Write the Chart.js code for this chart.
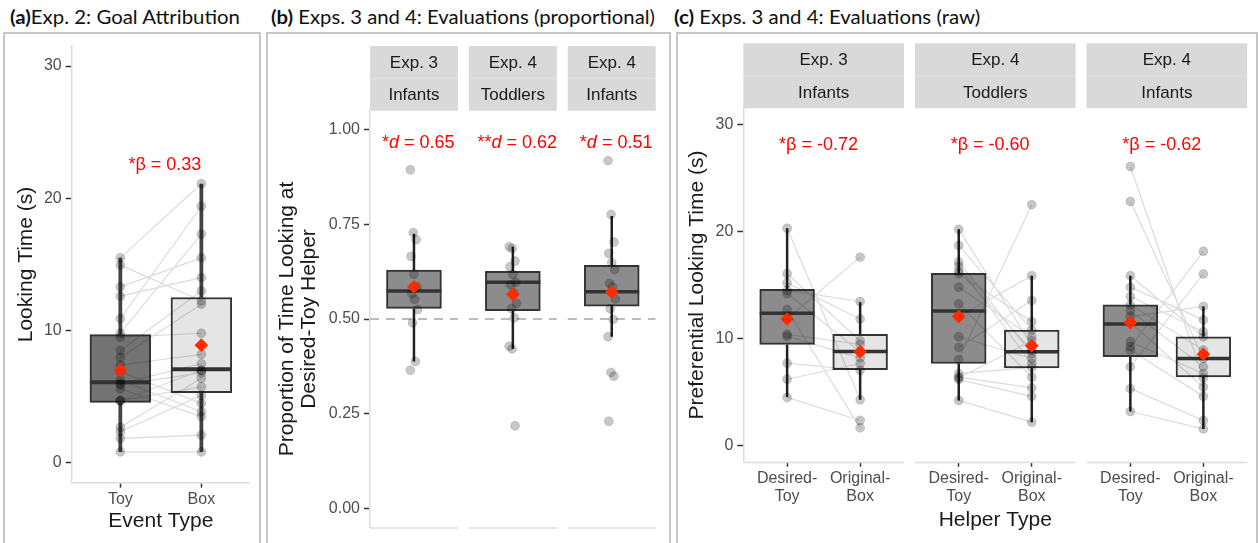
<!DOCTYPE html>
<html>
<head>
<meta charset="utf-8">
<title>Goal attribution and evaluations</title>
<script src="https://cdn.jsdelivr.net/npm/chart.js@4.4.1/dist/chart.umd.min.js"></script>
<style>
  html, body { margin: 0; padding: 0; background: #fff; }
  #page { position: relative; width: 1258px; height: 543px; overflow: hidden; }
  #page canvas { position: absolute; left: 0; top: 0; }
  .panel { position: absolute; top: 32px; height: 540px; border: 2px solid #c6c6c6; box-sizing: border-box; }
  .ptitle { position: absolute; top: 5px; font-family: Lato, "Open Sans", sans-serif; font-size: 19.5px; line-height: 24px; color: #111; white-space: nowrap; transform-origin: 0 50%; }
  .ptitle b { font-weight: 700; }
</style>
</head>
<body>
<div id="page">
  <div class="panel" style="left:3px; width:258px"></div>
  <div class="panel" style="left:266px; width:405px"></div>
  <div class="panel" style="left:676px; width:582px"></div>
  <div class="ptitle" data-w="230" style="left:10px"><b>(a)</b>Exp. 2: Goal Attribution</div>
  <div class="ptitle" data-w="384" style="left:271px"><b>(b)</b> Exps. 3 and 4: Evaluations (proportional)</div>
  <div class="ptitle" data-w="306" style="left:674px"><b>(c)</b> Exps. 3 and 4: Evaluations (raw)</div>
  <canvas id="chartA" width="1258" height="543"></canvas>
  <canvas id="chartB" width="1258" height="543"></canvas>
  <canvas id="chartC" width="1258" height="543"></canvas>
</div>
<script>
// --- data ---

// (a) Exp. 2: looking time per infant, paired Toy / Box
const EVENT_TYPES = ['Toy', 'Box'];
const TOY_LOOK = [15.5, 14.95, 13.3, 12.6, 10.9, 9.8, 9.5, 8.5, 7.97, 7.4, 6.9, 6.25, 6.0, 5.6, 5.9, 4.7, 4.7, 4.7, 2.7, 2.35, 1.85, 0.83];
const BOX_LOOK = [21.1, 12.25, 15.5, 14.0, 19.4, 17.3, 9.8, 13.0, 12.0, 8.2, 4.5, 3.86, 7.5, 3.5, 6.8, 7.0, 7.0, 5.75, 6.4, 5.1, 2.1, 0.83];
const A_LOW  = [0.83, 0.83];
const A_Q1   = [4.57, 5.3];
const A_MED  = [6.1, 7.07];
const A_Q3   = [9.7, 12.5];
const A_HIGH = [15.5, 21.1];
const A_MEAN = [7.0, 8.9];
const A_TICKS = [0, 10, 20, 30];
const A_NOTE = '*β = 0.33';

// facet strips shared by (b) and (c)
const STRIPS = [['Exp. 3', 'Infants'], ['Exp. 4', 'Toddlers'], ['Exp. 4', 'Infants']];

// (b) proportion of time looking at the desired-toy helper
const PROP_E3_INF = [0.894, 0.728, 0.709, 0.665, 0.618, 0.585, 0.567, 0.552, 0.525, 0.49, 0.388, 0.365];
const PROP_E4_TOD = [0.691, 0.686, 0.653, 0.638, 0.618, 0.597, 0.59, 0.569, 0.541, 0.527, 0.503, 0.428, 0.421, 0.218];
const PROP_E4_INF = [0.918, 0.776, 0.703, 0.673, 0.649, 0.631, 0.594, 0.585, 0.553, 0.527, 0.499, 0.453, 0.359, 0.349, 0.23];
const B_LOW  = [0.388, 0.421, 0.453];
const B_Q1   = [0.528, 0.522, 0.534];
const B_MED  = [0.574, 0.597, 0.572];
const B_Q3   = [0.629, 0.626, 0.642];
const B_HIGH = [0.725, 0.691, 0.772];
const B_MEAN = [0.585, 0.565, 0.571];
const B_TICKS = [0, 0.25, 0.5, 0.75, 1];
const B_CHANCE = 0.5;
const B_NOTES = ['*d = 0.65', '**d = 0.62', '*d = 0.51'];

// (c) preferential looking time, paired Desired-Toy / Original-Box
const HELPER_TYPES = [['Desired-', 'Toy'], ['Original-', 'Box']];
const DT_E3_INF = [20.3, 16.05, 15.2, 14.5, 14.2, 12.7, 11.85, 10.4, 10.2, 7.7, 6.2, 4.5];
const OB_E3_INF = [4.29, 9.8, 11.83, 13.46, 8.76, 1.66, 17.6, 9.45, 8.2, 7.04, 7.67, 2.35];
const DT_E4_TOD = [20.2, 18.7, 17.15, 16.77, 16.3, 16.06, 14.8, 13.24, 12.05, 10.17, 9.17, 8.05, 6.73, 6.4, 6.32, 6.17, 4.22];
const OB_E4_TOD = [9.39, 10.8, 8.6, 7.67, 8.9, 11.58, 10.17, 6.41, 15.87, 8.14, 13.55, 22.5, 7.3, 5.4, 9.8, 4.6, 2.19];
const DT_E4_INF = [26.07, 22.8, 15.87, 14.8, 13.93, 13.15, 12.6, 12.05, 11.5, 9.7, 9.23, 8.92, 7.36, 5.32, 3.19];
const OB_E4_INF = [6.32, 8.14, 10.17, 11.74, 10.64, 8.92, 7.36, 13.0, 5.48, 6.73, 18.15, 4.6, 16.03, 2.35, 1.56];
// per facet: [Desired-Toy, Original-Box]
const C_LOW  = [[4.54, 4.29], [4.22, 2.19], [3.19, 1.56]];
const C_Q1   = [[9.45, 7.1], [7.67, 7.26], [8.3, 6.41]];
const C_MED  = [[12.37, 8.8], [12.58, 8.76], [11.36, 8.14]];
const C_Q3   = [[14.6, 10.39], [16.1, 10.8], [13.15, 10.17]];
const C_HIGH = [[20.3, 13.4], [20.2, 15.87], [15.87, 13.0]];
const C_MEAN = [[11.83, 8.76], [12.05, 9.33], [11.49, 8.54]];
const C_TICKS = [0, 10, 20, 30];
const C_NOTES = ['*β = -0.72', '*β = -0.60', '*β = -0.62'];

// --- look & layout ---
const FONT = '"Liberation Sans", Arial, Helvetica, sans-serif';
Chart.defaults.font.family = FONT;
Chart.defaults.color = '#4d4d4d';
Chart.defaults.animation = false;
Chart.defaults.plugins.legend.display = false;
Chart.defaults.plugins.tooltip.enabled = false;

const AXIS_LINE = '#dcdcdc';
const TICK_MARK = '#333';
const DARK_BOX = '#8c8c8c';
const LIGHT_BOX = '#e5e5e5';
const POINT_FILL = 'rgba(0,0,0,0.22)';
const POINT_EDGE = 'rgba(0,0,0,0.12)';
const PAIR_LINE = 'rgba(0,0,0,0.14)';
const MEAN_RED = '#ff2a00';
const BOX_W = 0.75;       // box width in category units
const FACET_GAP = 0.15;   // gap between facets, category units

function yAxis(ticks, fmt, title, width, lineHeight) {
  return {
    type: 'linear',
    afterBuildTicks: s => { s.ticks = ticks.map(v => ({ value: v })); },
    afterFit: s => { s.width = width; },
    ticks: { font: { size: 16 }, color: '#4d4d4d', padding: 4, callback: fmt },
    grid: { drawOnChartArea: false, tickLength: 6, tickColor: TICK_MARK, tickWidth: 1.5 },
    border: { color: AXIS_LINE, width: 1.5 },
    title: { display: true, text: title, color: '#1a1a1a', font: { size: 21, lineHeight: lineHeight || 1.2 }, padding: { top: 4, bottom: 4 } }
  };
}

function xAxis(tickPos, labels, title, height, showBorder) {
  return {
    type: 'linear', offset: false,
    afterBuildTicks: s => { s.ticks = tickPos.map(v => ({ value: v })); },
    afterFit: s => { s.height = height; },
    ticks: { font: { size: 16, lineHeight: 1.12 }, color: '#4d4d4d', padding: 3, autoSkip: false, maxRotation: 0,
             callback: (v, i) => labels[i % labels.length] },
    grid: { offset: false, drawOnChartArea: false, tickLength: 5, tickColor: TICK_MARK, tickWidth: 1.5 },
    border: { display: showBorder, color: AXIS_LINE, width: 1.5 },
    title: { display: true, text: title, color: '#1a1a1a', font: { size: 21 }, padding: { top: 0, bottom: 4 } }
  };
}

// whiskers, boxes, medians and means for a set of positions
function boxSets(pos, low, q1, med, q3, high, mean, fills, barPx, whisk) {
  const w = [], m = [];
  pos.forEach((p, i) => {
    w.push({ x: p, y: high[i] }, { x: p, y: q3[i] }, { x: p, y: null },
           { x: p, y: q1[i] }, { x: p, y: low[i] }, { x: p, y: null });
    m.push({ x: p - BOX_W / 2, y: med[i] }, { x: p + BOX_W / 2, y: med[i] }, { x: p, y: null });
  });
  return [
    { type: 'line', data: w, borderColor: whisk.color, borderWidth: whisk.width, pointRadius: 0, spanGaps: false, order: 5 },
    { type: 'bar', data: pos.map((p, i) => ({ x: p, y: [q1[i], q3[i]] })), backgroundColor: fills,
      borderColor: '#333', borderWidth: 2, borderSkipped: false, barThickness: barPx, order: 4 },
    { type: 'line', data: m, borderColor: '#333', borderWidth: whisk.median, pointRadius: 0, spanGaps: false, order: 3 },
    { type: 'scatter', data: pos.map((p, i) => ({ x: p, y: mean[i] })), pointStyle: 'rectRot', pointRadius: 6.8,
      backgroundColor: MEAN_RED, borderWidth: 0, order: 0 }
  ];
}

function pointSet(points) {
  return { type: 'scatter', data: points, pointRadius: 4.5, backgroundColor: POINT_FILL,
           borderColor: POINT_EDGE, borderWidth: 1, order: 1 };
}

function pairSet(pairs) {
  return { type: 'line', data: pairs, borderColor: PAIR_LINE, borderWidth: 1.2, pointRadius: 0, spanGaps: false, order: 2 };
}

// red effect-size text; a lone "d" is set in italics
function drawNote(ctx, cx, cy, text) {
  const k = text.indexOf('d');
  const parts = k < 0 ? [[text, '']] : [[text.slice(0, k), ''], ['d', 'italic '], [text.slice(k + 1), '']];
  let total = 0;
  parts.forEach(p => { ctx.font = p[1] + '18px ' + FONT; p[2] = ctx.measureText(p[0]).width; total += p[2]; });
  let x = cx - total / 2;
  ctx.fillStyle = '#ff0000';
  ctx.textAlign = 'left';
  ctx.textBaseline = 'middle';
  parts.forEach(p => { ctx.font = p[1] + '18px ' + FONT; ctx.fillText(p[0], x, cy); x += p[2]; });
}

// strips, per-facet x-axis lines and the notes
const facetPlugin = {
  id: 'facets',
  afterDatasetsDraw(chart, args, opts) {
    const { ctx, chartArea } = chart;
    const xs = chart.scales.x, ys = chart.scales.y;
    ctx.save();
    (opts.facets || []).forEach((f, i) => {
      const l = xs.getPixelForValue(f.from), r = xs.getPixelForValue(f.to);
      ctx.strokeStyle = AXIS_LINE;
      ctx.lineWidth = 1.5;
      ctx.beginPath();
      ctx.moveTo(l, chartArea.bottom + 0.75);
      ctx.lineTo(r, chartArea.bottom + 0.75);
      ctx.stroke();
      const h = opts.stripHeight / 2, top = chartArea.top - opts.stripHeight;
      ctx.fillStyle = '#d9d9d9';
      ctx.fillRect(l, top, r - l, opts.stripHeight);
      ctx.fillStyle = '#e4e4e4';
      ctx.fillRect(l, top + h - 0.5, r - l, 1);
      ctx.fillStyle = '#1a1a1a';
      ctx.font = '17px ' + FONT;
      ctx.textAlign = 'center';
      ctx.textBaseline = 'middle';
      STRIPS[i].forEach((s, j) => ctx.fillText(s, (l + r) / 2, top + h * j + h / 2 + 1));
    });
    (opts.notes || []).forEach(n => drawNote(ctx, xs.getPixelForValue(n.x), ys.getPixelForValue(n.y), n.text));
    ctx.restore();
  }
};

// --- (a) ---
(function () {
  const pos = EVENT_TYPES.map((_, i) => i + 1);
  const pts = [], pairs = [];
  TOY_LOOK.forEach((v, i) => {
    pts.push({ x: 1, y: v }, { x: 2, y: BOX_LOOK[i] });
    pairs.push({ x: 1, y: v }, { x: 2, y: BOX_LOOK[i] }, { x: 1.5, y: null });
  });
  const left = 71.7, right = 250, xMin = 0.4, xMax = 2.6;
  new Chart(document.getElementById('chartA'), {
    type: 'scatter',
    data: { datasets: [
      ...boxSets(pos, A_LOW, A_Q1, A_MED, A_Q3, A_HIGH, A_MEAN, ['#737373', LIGHT_BOX],
                 BOX_W * (right - left) / (xMax - xMin), { color: 'rgba(35,35,35,0.85)', width: 3.8, median: 4 }),
      pairSet(pairs), pointSet(pts)
    ] },
    options: {
      responsive: false,
      layout: { padding: { left: 9.4, top: 46.2, right: 1258 - right, bottom: 4.7 } },
      scales: {
        x: Object.assign(xAxis(pos, EVENT_TYPES, 'Event Type', 55.6, true), { min: xMin, max: xMax }),
        y: Object.assign(yAxis(A_TICKS, v => v, 'Looking Time (s)', 62.3), { min: -1.5, max: 31.5 })
      },
      plugins: { facets: { notes: [{ x: 1.55, y: 22.5, text: A_NOTE }] } }
    },
    plugins: [facetPlugin]
  });
})();

// --- (b) ---
(function () {
  const span = 1.2;
  const groups = [PROP_E3_INF, PROP_E4_TOD, PROP_E4_INF];
  const starts = groups.map((_, i) => i * (span + FACET_GAP));
  const pos = starts.map(s => s + span / 2);
  const pts = [], chance = [];
  groups.forEach((g, f) => {
    g.forEach((v, i) => pts.push({ x: pos[f] + (((i * 37) % 11) - 5) / 100, y: v }));
    chance.push({ x: starts[f], y: B_CHANCE }, { x: starts[f] + span, y: B_CHANCE }, { x: pos[f], y: null });
  });
  const left = 370, right = 655.7, xMax = starts[2] + span;
  new Chart(document.getElementById('chartB'), {
    type: 'scatter',
    data: { datasets: [
      { type: 'line', data: chance, borderColor: '#a6a6a6', borderWidth: 1.5, borderDash: [9, 7], pointRadius: 0, spanGaps: false, order: 6 },
      ...boxSets(pos, B_LOW, B_Q1, B_MED, B_Q3, B_HIGH, B_MEAN, DARK_BOX,
                 BOX_W * (right - left) / xMax, { color: '#222', width: 2.5, median: 3.5 }),
      pointSet(pts)
    ] },
    options: {
      responsive: false,
      layout: { padding: { left: 271.4, top: 110.7, right: 1258 - right, bottom: 15.7 } },
      scales: {
        x: { type: 'linear', display: false, offset: false, min: 0, max: xMax, grid: { offset: false } },
        y: Object.assign(yAxis(B_TICKS, v => v.toFixed(2), ['Proportion of Time Looking at', 'Desired-Toy Helper'], 98.6, 1.08),
                         { min: -0.05, max: 1.05 })
      },
      plugins: { facets: {
        stripHeight: 64.6,
        facets: starts.map(s => ({ from: s, to: s + span })),
        notes: pos.map((p, i) => ({ x: p + 0.06, y: 0.965, text: B_NOTES[i] }))
      } }
    },
    plugins: [facetPlugin]
  });
})();

// --- (c) ---
(function () {
  const span = 2.2;
  const desired = [DT_E3_INF, DT_E4_TOD, DT_E4_INF];
  const original = [OB_E3_INF, OB_E4_TOD, OB_E4_INF];
  const starts = desired.map((_, i) => i * (span + FACET_GAP));
  const pos = [], fills = [], pts = [], pairs = [];
  const low = [], q1 = [], med = [], q3 = [], high = [], mean = [];
  starts.forEach((s, f) => {
    [0, 1].forEach(j => {
      pos.push(s + 0.6 + j);
      fills.push(j === 0 ? DARK_BOX : LIGHT_BOX);
      low.push(C_LOW[f][j]); q1.push(C_Q1[f][j]); med.push(C_MED[f][j]);
      q3.push(C_Q3[f][j]); high.push(C_HIGH[f][j]); mean.push(C_MEAN[f][j]);
    });
    const a = s + 0.6, b = s + 1.6;
    desired[f].forEach((v, i) => {
      pts.push({ x: a, y: v }, { x: b, y: original[f][i] });
      pairs.push({ x: a, y: v }, { x: b, y: original[f][i] }, { x: a, y: null });
    });
  });
  const left = 743.3, right = 1247.2, xMax = starts[2] + span;
  new Chart(document.getElementById('chartC'), {
    type: 'scatter',
    data: { datasets: [
      ...boxSets(pos, low, q1, med, q3, high, mean, fills,
                 BOX_W * (right - left) / xMax, { color: '#222', width: 2.5, median: 3.5 }),
      pairSet(pairs), pointSet(pts)
    ] },
    options: {
      responsive: false,
      layout: { padding: { left: 681, top: 108.3, right: 1258 - right, bottom: 6.4 } },
      scales: {
        x: Object.assign(xAxis(pos, HELPER_TYPES, 'Helper Type', 74.9, false), { min: 0, max: xMax }),
        y: Object.assign(yAxis(C_TICKS, v => v, 'Preferential Looking Time (s)', 62.3), { min: -1.5, max: 31.5 })
      },
      plugins: { facets: {
        stripHeight: 65,
        facets: starts.map(s => ({ from: s, to: s + span })),
        notes: starts.map((s, i) => ({ x: s + 1.1 - 0.07, y: 28.1, text: C_NOTES[i] }))
      } }
    },
    plugins: [facetPlugin]
  });
})();

// stretch the panel titles to the widths in the figure
document.querySelectorAll('.ptitle').forEach(el => {
  const w = el.getBoundingClientRect().width;
  el.style.transform = 'scaleX(' + (Number(el.dataset.w) / w).toFixed(3) + ')';
});
</script>
</body>
</html>
